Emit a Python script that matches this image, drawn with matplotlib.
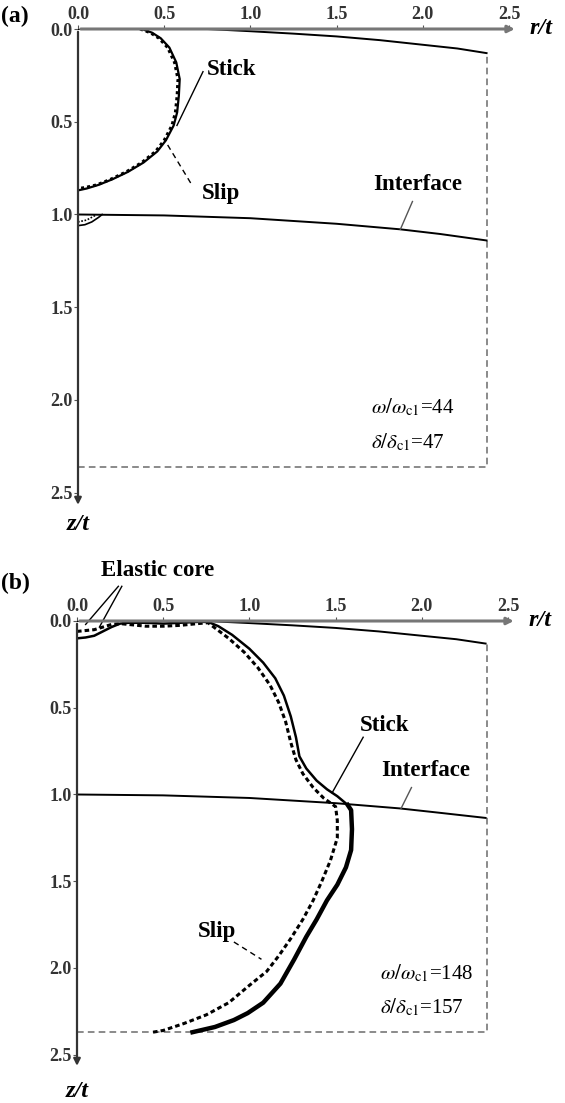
import numpy as np
import matplotlib.pyplot as plt

plt.rcParams['font.family'] = ['Liberation Serif', 'DejaVu Serif']
plt.rcParams['mathtext.fontset'] = 'stix'

# ============================================================
# 数据（r/t, z/t）
# ============================================================

ticks = [0.0, 0.5, 1.0, 1.5, 2.0, 2.5]
tick_labels = ['0.0', '0.5', '1.0', '1.5', '2.0', '2.5']

# 自由表面和界面
surf_r = [0.0, 0.4, 0.75, 1.0, 1.25, 1.5, 1.75, 2.0, 2.2, 2.37]
surf_z = [0.0, 0.0, 0.0, 0.012, 0.025, 0.04, 0.06, 0.085, 0.105, 0.13]
iface_r = [0.0, 0.5, 1.0, 1.5, 1.87, 2.1, 2.37]
iface_z = [1.0, 1.005, 1.02, 1.05, 1.08, 1.105, 1.14]

# (a) omega/omega_c1 = 44
stick_a_r = [0.37, 0.43, 0.48, 0.53, 0.57, 0.59, 0.585, 0.575, 0.555, 0.51, 0.46, 0.38, 0.29, 0.20, 0.12, 0.05, 0.0]
stick_a_z = [0.0, 0.02, 0.05, 0.10, 0.18, 0.27, 0.36, 0.45, 0.52, 0.60, 0.66, 0.72, 0.77, 0.81, 0.84, 0.86, 0.87]
slip_a_r = [0.36, 0.42, 0.47, 0.52, 0.56, 0.58, 0.575, 0.565, 0.545, 0.50, 0.45, 0.37, 0.28, 0.19, 0.11, 0.04, 0.0]
slip_a_z = [0.0, 0.02, 0.05, 0.10, 0.18, 0.27, 0.36, 0.45, 0.52, 0.60, 0.66, 0.72, 0.77, 0.81, 0.84, 0.855, 0.86]
bump_stick_r = [0.0, 0.04, 0.08, 0.12, 0.14]
bump_stick_z = [1.06, 1.055, 1.04, 1.015, 1.0]
bump_slip_r = [0.0, 0.05, 0.10]
bump_slip_z = [1.04, 1.03, 1.005]

# (b) omega/omega_c1 = 148
stick_b_up_r = [0.0, 0.05, 0.1, 0.15, 0.2, 0.25, 0.3, 0.4, 0.5, 0.6, 0.7, 0.76, 0.82, 0.9, 1.0, 1.08,
                1.15, 1.2, 1.24, 1.27, 1.29, 1.33, 1.39, 1.45, 1.51, 1.57]
stick_b_up_z = [0.1, 0.095, 0.085, 0.06, 0.035, 0.015, 0.01, 0.01, 0.015, 0.01, 0.005, 0.005, 0.03, 0.08,
                0.16, 0.24, 0.33, 0.43, 0.55, 0.67, 0.78, 0.85, 0.92, 0.97, 1.01, 1.06]
stick_b_lo_r = [1.57, 1.59, 1.595, 1.59, 1.56, 1.51, 1.45, 1.39, 1.33, 1.26, 1.18, 1.08, 0.99, 0.91, 0.80, 0.67]
stick_b_lo_z = [1.06, 1.09, 1.20, 1.32, 1.42, 1.52, 1.61, 1.72, 1.82, 1.95, 2.09, 2.20, 2.26, 2.30, 2.34, 2.37]
slip_b_r = [0.0, 0.05, 0.1, 0.15, 0.2, 0.25, 0.3, 0.4, 0.5, 0.6, 0.7, 0.76, 0.8, 0.88, 0.97, 1.05, 1.12,
            1.17, 1.21, 1.24, 1.27, 1.31, 1.37, 1.43, 1.5, 1.51, 1.51, 1.47, 1.42, 1.37, 1.31, 1.24, 1.17,
            1.10, 1.0, 0.88, 0.75, 0.62, 0.5, 0.44]
slip_b_z = [0.06, 0.055, 0.05, 0.035, 0.02, 0.015, 0.02, 0.03, 0.03, 0.025, 0.015, 0.01, 0.04, 0.1, 0.18,
            0.27, 0.37, 0.47, 0.58, 0.7, 0.8, 0.88, 0.96, 1.02, 1.07, 1.15, 1.25, 1.38, 1.5, 1.61, 1.72,
            1.83, 1.93, 2.02, 2.1, 2.2, 2.27, 2.32, 2.36, 2.37]

# ============================================================
# 画布（像素对齐）
# ============================================================

W, H = 565, 1103
fig = plt.figure(figsize=(W / 100, H / 100), dpi=100)

LIM = 2.6
# 面板 (a)：r=0 在 x=78 px，z=0 在 y=29 px
ax_a = fig.add_axes([78 / W, 1 - (29 + LIM * 185.5) / H, LIM * 172.4 / W, LIM * 185.5 / H])
# 面板 (b)：r=0 在 x=77 px，z=0 在 y=621 px
ax_b = fig.add_axes([77 / W, 1 - (621 + LIM * 173.5) / H, LIM * 172.4 / W, LIM * 173.5 / H])

lab_font = dict(fontsize=16.5, fontweight='bold', family='Liberation Serif')


def setup_axes(ax, rb, zb, z_iface_end, zt_pos):
    ax.set_xlim(0, LIM)
    ax.set_ylim(LIM, 0)
    for s in ax.spines.values():
        s.set_visible(False)
    ax.xaxis.tick_top()
    ax.set_xticks(ticks)
    ax.set_xticklabels(tick_labels)
    ax.set_yticks(ticks)
    ax.set_yticklabels(tick_labels)
    ax.tick_params(axis='both', direction='out', length=3, width=0.8, color='#555',
                   labelsize=13, labelcolor='#333', pad=1)
    for t in ax.get_xticklabels() + ax.get_yticklabels():
        t.set_fontweight('bold')

    # 坐标轴箭头
    ax.annotate('', xy=(2.55, 0), xytext=(0, 0),
                arrowprops=dict(arrowstyle='-|>', color='#777', lw=2.2, mutation_scale=10))
    ax.annotate('', xy=(0, 2.58), xytext=(0, 0),
                arrowprops=dict(arrowstyle='-|>', color='#333', lw=1.6, mutation_scale=10))
    ax.text(2.62, 0.0, 'r/t', fontsize=17.5, fontweight='bold', fontstyle='italic',
            ha='left', va='center', clip_on=False)
    ax.text(0.0, zt_pos, 'z/t', fontsize=17.5, fontweight='bold', fontstyle='italic',
            ha='center', va='center', clip_on=False)

    # 虚线边界
    ax.plot([0, rb, rb], [zb, zb, surf_z[-1]], color='#777', ls=(0, (4, 2.5)), lw=1.2)

    # 自由表面和界面
    ax.plot(surf_r, surf_z, color='black', lw=1.4)
    r_if = list(iface_r)
    z_if = list(iface_z)
    z_if[-1] = z_iface_end
    ax.plot(r_if, z_if, color='black', lw=1.4)


# ============================================================
# 面板 (a)
# ============================================================

setup_axes(ax_a, 2.37, 2.36, 1.14, 2.67)
ax_a.plot(stick_a_r, stick_a_z, color='black', lw=1.6)
ax_a.plot(slip_a_r, slip_a_z, color='black', lw=2.2, ls=(0, (1, 1)))
ax_a.plot(bump_stick_r, bump_stick_z, color='black', lw=1.2)
ax_a.plot(bump_slip_r, bump_slip_z, color='black', lw=1.2, ls=(0, (1, 1)))

ax_a.plot([0.725, 0.574], [0.23, 0.52], color='black', lw=1.0)
ax_a.text(0.75, 0.22, 'Stick', ha='left', va='center', **lab_font)
ax_a.plot([0.52, 0.66], [0.625, 0.84], color='black', lw=1.0, ls=(0, (4, 3)))
ax_a.text(0.72, 0.885, 'Slip', ha='left', va='center', **lab_font)
ax_a.plot([1.94, 1.87], [0.93, 1.08], color='#555', lw=1.0)
ax_a.text(1.97, 0.84, 'Interface', ha='center', va='center', **lab_font)

ax_a.text(1.70, 2.04, r'$\omega/\omega_{\rm c1}$=44', fontsize=15, ha='left', va='center')
ax_a.text(1.70, 2.23, r'$\delta/\delta_{\rm c1}$=47', fontsize=15, ha='left', va='center')
fig.text(1 / W, 1 - 16 / H, '(a)', fontsize=17, fontweight='bold', ha='left', va='center')

# ============================================================
# 面板 (b)
# ============================================================

setup_axes(ax_b, 2.38, 2.37, 1.135, 2.71)
ax_b.plot(stick_b_up_r, stick_b_up_z, color='black', lw=1.8)
ax_b.plot(stick_b_lo_r, stick_b_lo_z, color='black', lw=3.2)
ax_b.plot(slip_b_r, slip_b_z, color='black', lw=2.2, ls=(0, (1.5, 1)))

ax_b.plot([0.24, 0.05], [-0.2, 0.02], color='black', lw=1.0, clip_on=False)
ax_b.plot([0.26, 0.13], [-0.2, 0.035], color='black', lw=1.0, clip_on=False)
ax_b.text(0.47, -0.29, 'Elastic core', ha='center', va='center', **lab_font)
ax_b.plot([1.66, 1.48], [0.67, 0.99], color='black', lw=1.0)
ax_b.text(1.64, 0.6, 'Stick', ha='left', va='center', **lab_font)
ax_b.plot([1.94, 1.88], [0.96, 1.08], color='#555', lw=1.0)
ax_b.text(2.02, 0.86, 'Interface', ha='center', va='center', **lab_font)
ax_b.plot([0.91, 1.07], [1.85, 1.95], color='black', lw=1.0, ls=(0, (4, 3)))
ax_b.text(0.81, 1.79, 'Slip', ha='center', va='center', **lab_font)

ax_b.text(1.76, 2.03, r'$\omega/\omega_{\rm c1}$=148', fontsize=15, ha='left', va='center')
ax_b.text(1.76, 2.23, r'$\delta/\delta_{\rm c1}$=157', fontsize=15, ha='left', va='center')
fig.text(1 / W, 1 - 583 / H, '(b)', fontsize=17, fontweight='bold', ha='left', va='center')

plt.savefig('out.png', dpi=100)
plt.close()
